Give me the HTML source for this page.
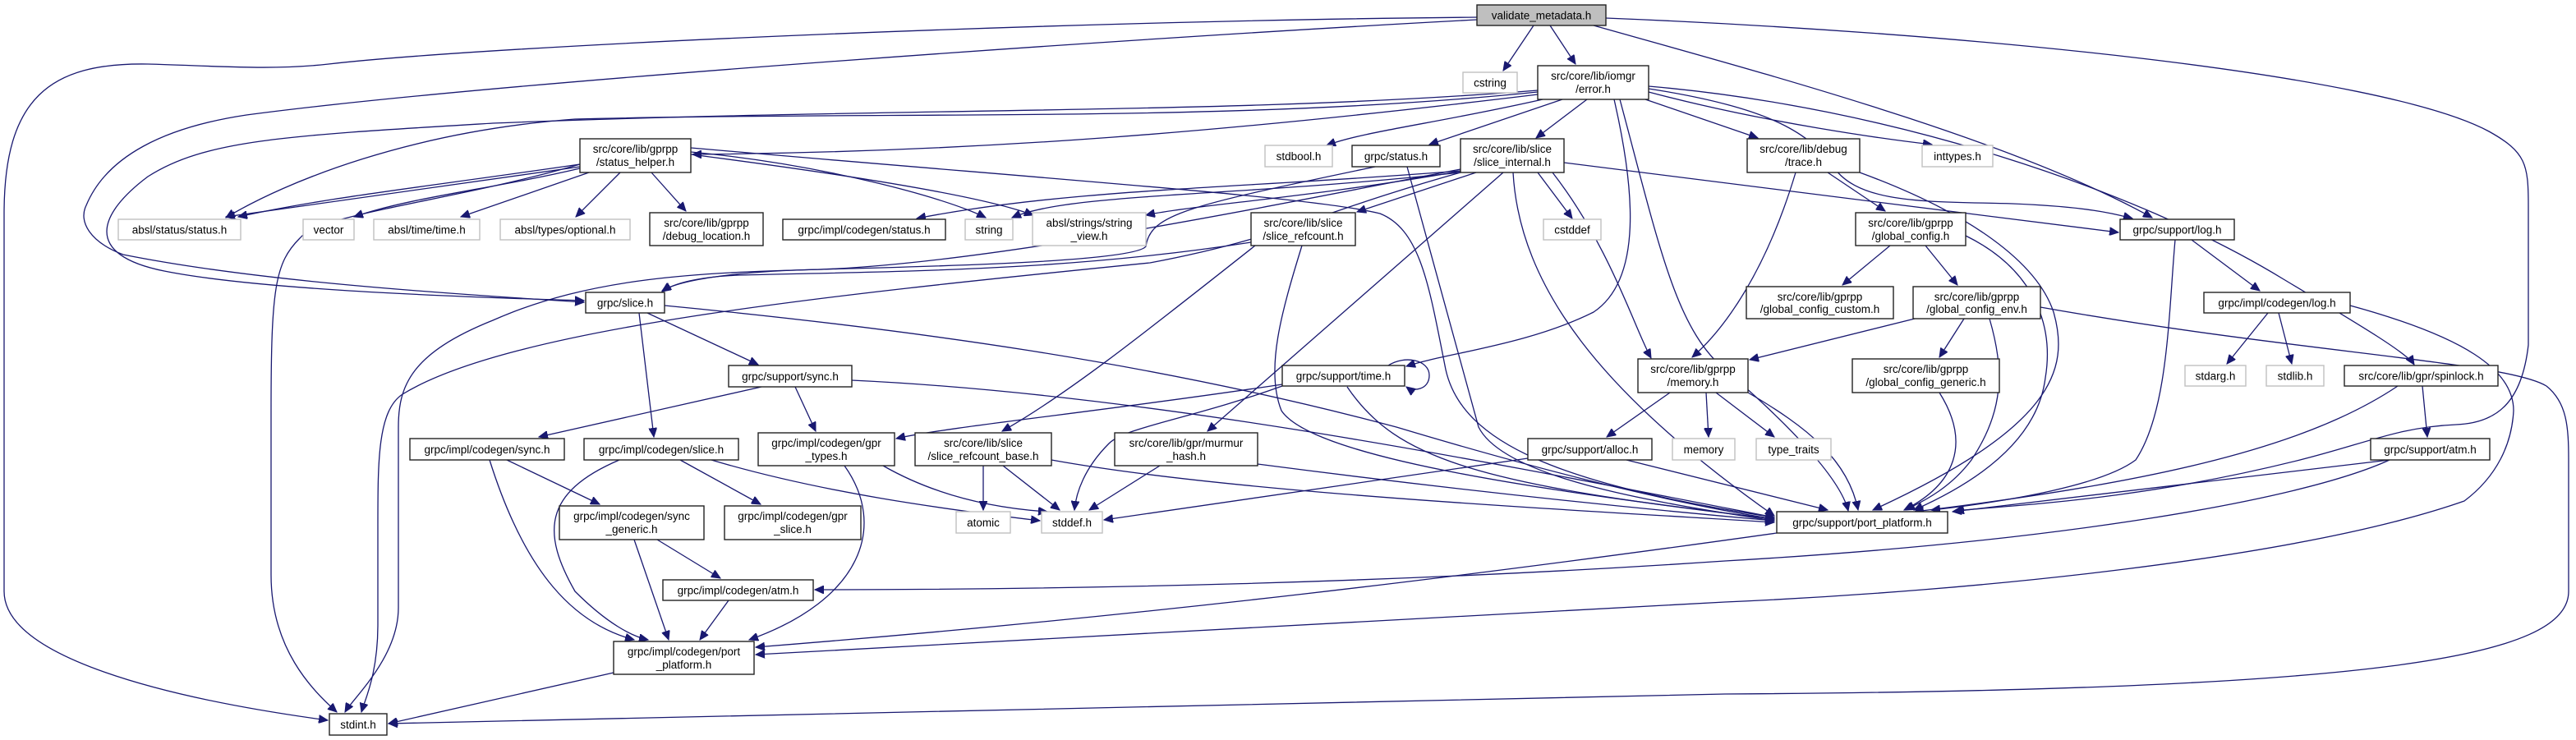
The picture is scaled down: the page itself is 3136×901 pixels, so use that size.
<!DOCTYPE html>
<html><head><meta charset="utf-8"><style>
html,body{margin:0;padding:0;background:#fff;}
svg{display:block;}
text{font-family:"Liberation Sans","DejaVu Sans",sans-serif;font-size:13.5px;fill:#000;text-anchor:middle;}
.e{fill:none;stroke:#191970;stroke-width:1.3;marker-end:url(#a);}
.n{fill:#fff;stroke:#222;stroke-width:1.4;}
.g{fill:#fff;stroke:#c0c0c0;stroke-width:1.4;}
.r{fill:#bfbfbf;stroke:#222;stroke-width:1.4;}
</style></head><body>
<svg width="3136" height="901" viewBox="0 0 3136 901" xmlns="http://www.w3.org/2000/svg">
<defs><marker id="a" markerUnits="userSpaceOnUse" markerWidth="12" markerHeight="10" refX="11" refY="5" orient="auto"><path d="M0,0 L11,5 L0,10 z" fill="#191970" stroke="#191970"/></marker></defs>
<g>
<path class="e" d="M1867,31 L1830,86"/>
<path class="e" d="M1887,31 L1918,78"/>
<path class="e" d="M1798,21 C1300,25 600,55 400,78 C330,86 260,80 180,78 C60,76 5,120 5,260 L5,720 C5,800 200,850 399,877"/>
<path class="e" d="M1798,24 C1400,45 600,100 300,140 C200,155 130,190 105,250 C95,270 110,295 150,310 C300,340 500,355 711,368"/>
<path class="e" d="M1940,31 C2150,90 2450,170 2620,265"/>
<path class="e" d="M1955,22 C2400,40 2900,90 3030,160 C3075,185 3078,200 3078,250 L3078,420 C3070,490 3040,515 2990,517 C2920,520 2880,540 2800,560 C2600,610 2450,615 2380,622"/>
<path class="e" d="M1872,115 C1500,160 1200,185 843,188"/>
<path class="e" d="M1872,112 C1500,150 1100,135 700,145 C500,160 350,220 275,265"/>
<path class="e" d="M1872,110 C1500,140 1100,130 600,150 C350,165 250,170 180,215 C120,260 100,310 200,330 C300,350 500,360 711,366"/>
<path class="e" d="M1878,121 C1750,150 1660,160 1615,177"/>
<path class="e" d="M1902,121 L1740,176"/>
<path class="e" d="M1932,121 L1870,168"/>
<path class="e" d="M1965,121 C1990,230 2000,340 1940,380 C1860,420 1760,430 1712,446"/>
<path class="e" d="M1972,121 C2020,300 2040,400 2100,450 C2170,510 2240,580 2250,622"/>
<path class="e" d="M2003,121 L2140,168"/>
<path class="e" d="M2007,112 C2150,150 2300,170 2352,176"/>
<path class="e" d="M2007,108 C2150,130 2200,160 2230,200 C2260,250 2350,245 2450,248 C2550,252 2580,262 2596,266"/>
<path class="e" d="M2007,105 C2300,130 2600,230 2780,340 C2880,400 2930,430 2939,444"/>
<path class="e" d="M706,203 L275,264"/>
<path class="e" d="M706,200 C500,230 400,240 290,264"/>
<path class="e" d="M706,205 C600,230 500,240 431,264"/>
<path class="e" d="M717,210 L561,264"/>
<path class="e" d="M755,210 L701,264"/>
<path class="e" d="M793,210 L835,257"/>
<path class="e" d="M706,200 C550,245 390,260 365,290 C335,320 330,350 330,500 L330,700 C330,790 380,840 410,867"/>
<path class="e" d="M841,185 C1000,200 1150,240 1200,265"/>
<path class="e" d="M841,188 C1050,215 1200,240 1258,262"/>
<path class="e" d="M841,180 C1300,220 1600,240 1680,260 C1730,280 1740,350 1760,450 C1780,540 1900,590 2160,630"/>
<path class="e" d="M1778,208 C1500,230 1300,230 1116,266"/>
<path class="e" d="M1778,210 C1500,240 1300,235 1232,265"/>
<path class="e" d="M1780,208 C1600,240 1450,250 1395,262"/>
<path class="e" d="M1778,206 C1500,260 1200,320 1000,328 C900,330 830,340 806,354"/>
<path class="e" d="M1797,210 L1652,258"/>
<path class="e" d="M1872,210 L1914,266"/>
<path class="e" d="M1890,210 C1960,300 1990,400 2010,436"/>
<path class="e" d="M1830,210 L1470,525"/>
<path class="e" d="M1842,210 C1850,350 1950,480 2160,628"/>
<path class="e" d="M1904,198 L2579,283"/>
<path class="e" d="M1778,210 C1600,260 1560,290 1400,320 C1000,360 620,400 490,480 C460,500 460,560 460,640 L460,760 C460,820 445,850 440,867"/>
<path class="e" d="M1523,295 C1300,330 1100,330 900,335 C850,337 820,345 806,355"/>
<path class="e" d="M1528,299 C1400,400 1300,480 1220,525"/>
<path class="e" d="M1585,299 C1560,380 1540,450 1560,500 C1600,560 1900,600 2160,632"/>
<path class="e" d="M1713,203 C1740,300 1780,450 1800,520 C1830,580 2000,610 2160,634"/>
<path class="e" d="M1674,203 C1450,250 1400,260 1395,300 C1380,320 1100,325 1000,328 C850,332 720,337 600,390 C500,430 485,470 485,520 L485,740 C485,800 430,850 420,867"/>
<path class="e" d="M788,381 L923,444"/>
<path class="e" d="M778,381 L796,532"/>
<path class="e" d="M809,372 C1100,400 1400,440 1700,520 C1900,580 2050,615 2160,632"/>
<path class="e" d="M927,471 L656,532"/>
<path class="e" d="M968,471 L993,525"/>
<path class="e" d="M1037,463 C1400,480 1800,560 2160,630"/>
<path class="e" d="M1690,445 C1710,432 1740,438 1740,457 C1740,475 1720,477 1712,471"/>
<path class="e" d="M1561,468 C1350,500 1150,520 1091,534"/>
<path class="e" d="M1561,470 C1450,510 1370,520 1350,540 C1320,570 1310,600 1308,621"/>
<path class="e" d="M1640,471 C1700,560 1800,590 2160,632"/>
<path class="e" d="M617,560 L730,614"/>
<path class="e" d="M596,560 C640,700 700,760 772,779"/>
<path class="e" d="M754,560 C660,600 660,650 700,720 C740,760 770,775 789,779"/>
<path class="e" d="M828,560 L926,614"/>
<path class="e" d="M866,560 C1000,600 1150,620 1266,634"/>
<path class="e" d="M1028,567 C1080,640 1050,730 912,779"/>
<path class="e" d="M1075,567 C1150,610 1230,620 1275,623"/>
<path class="e" d="M800,657 L877,704"/>
<path class="e" d="M772,657 L814,779"/>
<path class="e" d="M887,731 L852,779"/>
<path class="e" d="M747,819 L473,881"/>
<path class="e" d="M1197,567 L1197,621"/>
<path class="e" d="M1221,567 L1290,621"/>
<path class="e" d="M1280,560 C1500,600 1900,620 2160,636"/>
<path class="e" d="M1412,567 L1326,621"/>
<path class="e" d="M1531,565 C1800,600 2000,620 2160,634"/>
<path class="e" d="M1860,558 L1344,633"/>
<path class="e" d="M1980,560 L2225,621"/>
<path class="e" d="M2033,478 L1956,532"/>
<path class="e" d="M2077,478 L2080,532"/>
<path class="e" d="M2089,478 L2160,532"/>
<path class="e" d="M2128,478 C2200,520 2250,560 2262,621"/>
<path class="e" d="M2225,210 L2295,257"/>
<path class="e" d="M2186,210 C2150,330 2100,400 2060,435"/>
<path class="e" d="M2264,210 C2400,260 2480,320 2500,380 C2520,450 2500,520 2280,621"/>
<path class="e" d="M2301,299 L2243,347"/>
<path class="e" d="M2344,299 L2383,347"/>
<path class="e" d="M2393,287 C2480,330 2500,400 2490,460 C2480,540 2400,590 2330,621"/>
<path class="e" d="M2331,388 L2130,438"/>
<path class="e" d="M2391,388 L2361,435"/>
<path class="e" d="M2422,388 C2440,450 2440,500 2400,560 C2370,600 2330,615 2320,621"/>
<path class="e" d="M2484,374 C2800,430 3050,440 3100,470 C3125,490 3127,520 3127,560 L3127,720 C3127,800 2900,840 2100,845 C1500,860 900,875 473,881"/>
<path class="e" d="M2361,478 C2400,540 2380,590 2318,621"/>
<path class="e" d="M2668,292 L2751,354"/>
<path class="e" d="M2648,292 C2640,380 2640,500 2600,560 C2560,590 2450,610 2351,621"/>
<path class="e" d="M2761,381 L2711,443"/>
<path class="e" d="M2774,381 L2790,443"/>
<path class="e" d="M2861,372 C3000,410 3060,450 3060,500 C3058,540 3040,580 3000,610 C2800,680 2400,720 2100,733 C1600,760 1200,780 920,797"/>
<path class="e" d="M2949,470 L2955,532"/>
<path class="e" d="M2919,470 C2800,550 2600,590 2331,623"/>
<path class="e" d="M2909,560 L2377,623"/>
<path class="e" d="M2909,560 C2800,610 2500,660 2100,683 C1700,710 1300,718 992,718"/>
<path class="e" d="M2163,649 C1800,700 1400,750 920,788"/>
</g>
<g>
<rect class="r" x="1798" y="6" width="157" height="25"/><text x="1876.5" y="23.5">validate_metadata.h</text>
<rect class="g" x="1781" y="88" width="66" height="25"/><text x="1814" y="105.5">cstring</text>
<rect class="n" x="1872" y="80" width="135" height="41"/><text x="1939.5" y="97">src/core/lib/iomgr</text><text x="1939.5" y="113">/error.h</text>
<rect class="n" x="706" y="169" width="135" height="41"/><text x="773.5" y="186">src/core/lib/gprpp</text><text x="773.5" y="202">/status_helper.h</text>
<rect class="g" x="1540" y="177" width="82" height="26"/><text x="1581" y="195">stdbool.h</text>
<rect class="n" x="1646" y="177" width="107" height="26"/><text x="1699.5" y="195">grpc/status.h</text>
<rect class="n" x="1778" y="169" width="126" height="41"/><text x="1841" y="186">src/core/lib/slice</text><text x="1841" y="202">/slice_internal.h</text>
<rect class="n" x="2127" y="169" width="137" height="41"/><text x="2195.5" y="186">src/core/lib/debug</text><text x="2195.5" y="202">/trace.h</text>
<rect class="g" x="2340" y="177" width="86" height="26"/><text x="2383" y="195">inttypes.h</text>
<rect class="g" x="144" y="267" width="149" height="25"/><text x="218.5" y="284.5">absl/status/status.h</text>
<rect class="g" x="369" y="267" width="62" height="25"/><text x="400" y="284.5">vector</text>
<rect class="g" x="455" y="267" width="129" height="25"/><text x="519.5" y="284.5">absl/time/time.h</text>
<rect class="g" x="609" y="267" width="158" height="25"/><text x="688" y="284.5">absl/types/optional.h</text>
<rect class="n" x="791" y="259" width="138" height="40"/><text x="860" y="276">src/core/lib/gprpp</text><text x="860" y="292">/debug_location.h</text>
<rect class="n" x="953" y="267" width="198" height="25"/><text x="1052" y="284.5">grpc/impl/codegen/status.h</text>
<rect class="g" x="1175" y="267" width="58" height="25"/><text x="1204" y="284.5">string</text>
<rect class="g" x="1257" y="259" width="138" height="40"/><text x="1326" y="276">absl/strings/string</text><text x="1326" y="292">_view.h</text>
<rect class="n" x="1523" y="259" width="127" height="40"/><text x="1586.5" y="276">src/core/lib/slice</text><text x="1586.5" y="292">/slice_refcount.h</text>
<rect class="g" x="1879" y="267" width="70" height="25"/><text x="1914" y="284.5">cstddef</text>
<rect class="n" x="2259" y="259" width="134" height="40"/><text x="2326" y="276">src/core/lib/gprpp</text><text x="2326" y="292">/global_config.h</text>
<rect class="n" x="2581" y="267" width="139" height="25"/><text x="2650.5" y="284.5">grpc/support/log.h</text>
<rect class="n" x="713" y="356" width="96" height="25"/><text x="761" y="373.5">grpc/slice.h</text>
<rect class="n" x="2126" y="349" width="179" height="39"/><text x="2215.5" y="366">src/core/lib/gprpp</text><text x="2215.5" y="381">/global_config_custom.h</text>
<rect class="n" x="2329" y="349" width="155" height="39"/><text x="2406.5" y="366">src/core/lib/gprpp</text><text x="2406.5" y="381">/global_config_env.h</text>
<rect class="n" x="2683" y="356" width="178" height="25"/><text x="2772" y="373.5">grpc/impl/codegen/log.h</text>
<rect class="n" x="887" y="445" width="150" height="26"/><text x="962" y="463">grpc/support/sync.h</text>
<rect class="n" x="1561" y="445" width="149" height="25"/><text x="1635.5" y="462.5">grpc/support/time.h</text>
<rect class="n" x="1994" y="437" width="134" height="41"/><text x="2061" y="454">src/core/lib/gprpp</text><text x="2061" y="470">/memory.h</text>
<rect class="n" x="2255" y="437" width="179" height="41"/><text x="2344.5" y="454">src/core/lib/gprpp</text><text x="2344.5" y="470">/global_config_generic.h</text>
<rect class="g" x="2660" y="445" width="74" height="25"/><text x="2697" y="462.5">stdarg.h</text>
<rect class="g" x="2759" y="445" width="70" height="25"/><text x="2794" y="462.5">stdlib.h</text>
<rect class="n" x="2854" y="445" width="187" height="25"/><text x="2947.5" y="462.5">src/core/lib/gpr/spinlock.h</text>
<rect class="n" x="499" y="534" width="188" height="26"/><text x="593" y="552">grpc/impl/codegen/sync.h</text>
<rect class="n" x="711" y="534" width="188" height="26"/><text x="805" y="552">grpc/impl/codegen/slice.h</text>
<rect class="n" x="923" y="527" width="166" height="40"/><text x="1006" y="544">grpc/impl/codegen/gpr</text><text x="1006" y="560">_types.h</text>
<rect class="n" x="1114" y="527" width="166" height="40"/><text x="1197" y="544">src/core/lib/slice</text><text x="1197" y="560">/slice_refcount_base.h</text>
<rect class="n" x="1357" y="527" width="174" height="40"/><text x="1444" y="544">src/core/lib/gpr/murmur</text><text x="1444" y="560">_hash.h</text>
<rect class="n" x="1860" y="534" width="151" height="26"/><text x="1935.5" y="552">grpc/support/alloc.h</text>
<rect class="g" x="2036" y="534" width="76" height="26"/><text x="2074" y="552">memory</text>
<rect class="g" x="2138" y="534" width="91" height="26"/><text x="2183.5" y="552">type_traits</text>
<rect class="n" x="2886" y="534" width="145" height="26"/><text x="2958.5" y="552">grpc/support/atm.h</text>
<rect class="n" x="681" y="616" width="176" height="41"/><text x="769" y="633">grpc/impl/codegen/sync</text><text x="769" y="649">_generic.h</text>
<rect class="n" x="882" y="616" width="166" height="41"/><text x="965" y="633">grpc/impl/codegen/gpr</text><text x="965" y="649">_slice.h</text>
<rect class="g" x="1164" y="623" width="66" height="26"/><text x="1197" y="641">atomic</text>
<rect class="g" x="1268" y="623" width="74" height="26"/><text x="1305" y="641">stddef.h</text>
<rect class="n" x="2163" y="623" width="208" height="26"/><text x="2267" y="641">grpc/support/port_platform.h</text>
<rect class="n" x="807" y="706" width="183" height="25"/><text x="898.5" y="723.5">grpc/impl/codegen/atm.h</text>
<rect class="n" x="747" y="781" width="171" height="40"/><text x="832.5" y="798">grpc/impl/codegen/port</text><text x="832.5" y="814">_platform.h</text>
<rect class="n" x="401" y="869" width="70" height="26"/><text x="436" y="887">stdint.h</text>
</g>
</svg>
</body></html>
